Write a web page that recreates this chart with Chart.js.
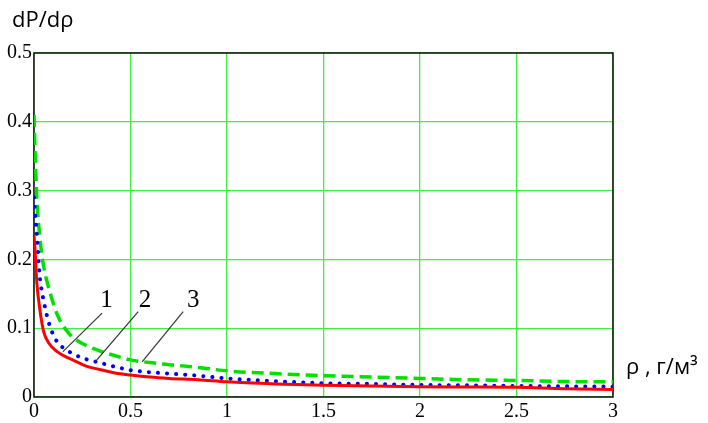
<!DOCTYPE html>
<html>
<head>
<meta charset="utf-8">
<script src="https://cdn.jsdelivr.net/npm/chart.js@4"></script>
<style>
    body { margin: 0; background: #fff; }
    #wrap { width: 708px; height: 423px; position: relative; }
</style>
</head>
<body>
<div id="wrap"><canvas id="graph"></canvas></div>
<script>
// density, g/m3
const rho = [0, 0.005, 0.015, 0.03, 0.05, 0.08, 0.12, 0.16, 0.2, 0.27, 0.34, 0.42, 0.5, 0.6, 0.7, 0.85, 1.0, 1.25, 1.5, 1.75, 2.0, 2.25, 2.5, 2.75, 3.0];

// curve 1 (red), 2 (blue), 3 (green)
const curve1 = [0.235, 0.215, 0.165, 0.128, 0.095, 0.077, 0.066, 0.059, 0.054, 0.045, 0.040, 0.035, 0.032, 0.029, 0.027, 0.025, 0.022, 0.019, 0.017, 0.016, 0.015, 0.0145, 0.014, 0.012, 0.011];
const curve2 = [0.290, 0.270, 0.235, 0.175, 0.140, 0.105, 0.080, 0.070, 0.063, 0.055, 0.050, 0.044, 0.039, 0.036, 0.034, 0.031, 0.027, 0.023, 0.020, 0.019, 0.0175, 0.017, 0.016, 0.0155, 0.015];
const curve3 = [0.410, 0.360, 0.287, 0.233, 0.190, 0.155, 0.120, 0.100, 0.087, 0.075, 0.067, 0.060, 0.054, 0.050, 0.047, 0.043, 0.038, 0.034, 0.031, 0.029, 0.027, 0.025, 0.024, 0.0225, 0.022];

const curveLabels = ['1', '2', '3'];

const graph = document.getElementById('graph').getContext('2d');

function pts(ys) {
    return rho.map((x, i) => ({ x: x, y: ys[i] }));
}

const frameAndLabels = {
    id: 'frameAndLabels',
    beforeDatasetsDraw(chart) {
        const a = chart.chartArea;
        const c = chart.ctx;
        c.save();
        c.strokeStyle = '#111';
        c.lineWidth = 1.5;
        c.strokeRect(a.left, a.top, a.right - a.left, a.bottom - a.top);
        c.restore();
    },
    afterDraw(chart) {
        const c = chart.ctx;
        const sx = chart.scales.x, sy = chart.scales.y;
        // leader lines in data units: [textX, textY, fromX, fromY, toX, toY]
        const leaders = [
            [0.375, 0.14, 0.353, 0.122, 0.15, 0.066],
            [0.575, 0.14, 0.54, 0.124, 0.317, 0.051],
            [0.825, 0.14, 0.773, 0.124, 0.56, 0.051]
        ];
        c.save();
        c.strokeStyle = '#333';
        c.lineWidth = 1.2;
        c.fillStyle = '#000';
        c.font = '25px "Liberation Serif"';
        c.textAlign = 'center';
        c.textBaseline = 'middle';
        leaders.forEach((l, i) => {
            c.beginPath();
            c.moveTo(sx.getPixelForValue(l[2]), sy.getPixelForValue(l[3]));
            c.lineTo(sx.getPixelForValue(l[4]), sy.getPixelForValue(l[5]));
            c.stroke();
            c.fillText(curveLabels[i], sx.getPixelForValue(l[0]), sy.getPixelForValue(l[1]));
        });
        // axis titles
        c.font = '22px "Open Sans"';
        c.textAlign = 'left';
        c.fillText('dP/dρ', 12, 21);
        c.fillText('ρ , г/м³', 626, 368);
        c.restore();
    }
};

new Chart(graph, {
    type: 'line',
    data: {
        datasets: [{
            label: '1',
            data: pts(curve1),
            borderColor: '#ff0000',
            borderWidth: 3,
            cubicInterpolationMode: 'monotone',
            pointRadius: 0
        }, {
            label: '2',
            data: pts(curve2),
            borderColor: '#0000ff',
            borderWidth: 4,
            borderDash: [0.1, 9],
            borderCapStyle: 'round',
            cubicInterpolationMode: 'monotone',
            pointRadius: 0
        }, {
            label: '3',
            data: pts(curve3),
            borderColor: '#00e000',
            borderWidth: 3.5,
            borderDash: [12, 6],
            cubicInterpolationMode: 'monotone',
            pointRadius: 0
        }]
    },
    options: {
        responsive: true,
        maintainAspectRatio: false,
        animation: false,
        layout: {
            padding: { left: 0, top: 53, right: 95, bottom: 0 }
        },
        plugins: {
            legend: { display: false },
            tooltip: { enabled: false }
        },
        scales: {
            x: {
                type: 'linear',
                min: 0,
                max: 3,
                afterFit: s => { s.height = 26; },
                grid: { color: '#40f040', lineWidth: 1.3, drawTicks: false },
                border: { display: false },
                ticks: {
                    stepSize: 0.5,
                    padding: 3,
                    color: '#000',
                    font: { family: 'Liberation Serif', size: 20 },
                    callback: v => String(Math.round(v * 10) / 10)
                }
            },
            y: {
                min: 0,
                max: 0.5,
                afterFit: s => { s.width = 34; },
                grid: { color: '#40f040', lineWidth: 1.3, drawTicks: false },
                border: { display: false },
                ticks: {
                    stepSize: 0.1,
                    padding: 2,
                    color: '#000',
                    font: { family: 'Liberation Serif', size: 20 },
                    callback: v => String(Math.round(v * 10) / 10)
                }
            }
        }
    },
    plugins: [frameAndLabels]
});
</script>
</body>
</html>
